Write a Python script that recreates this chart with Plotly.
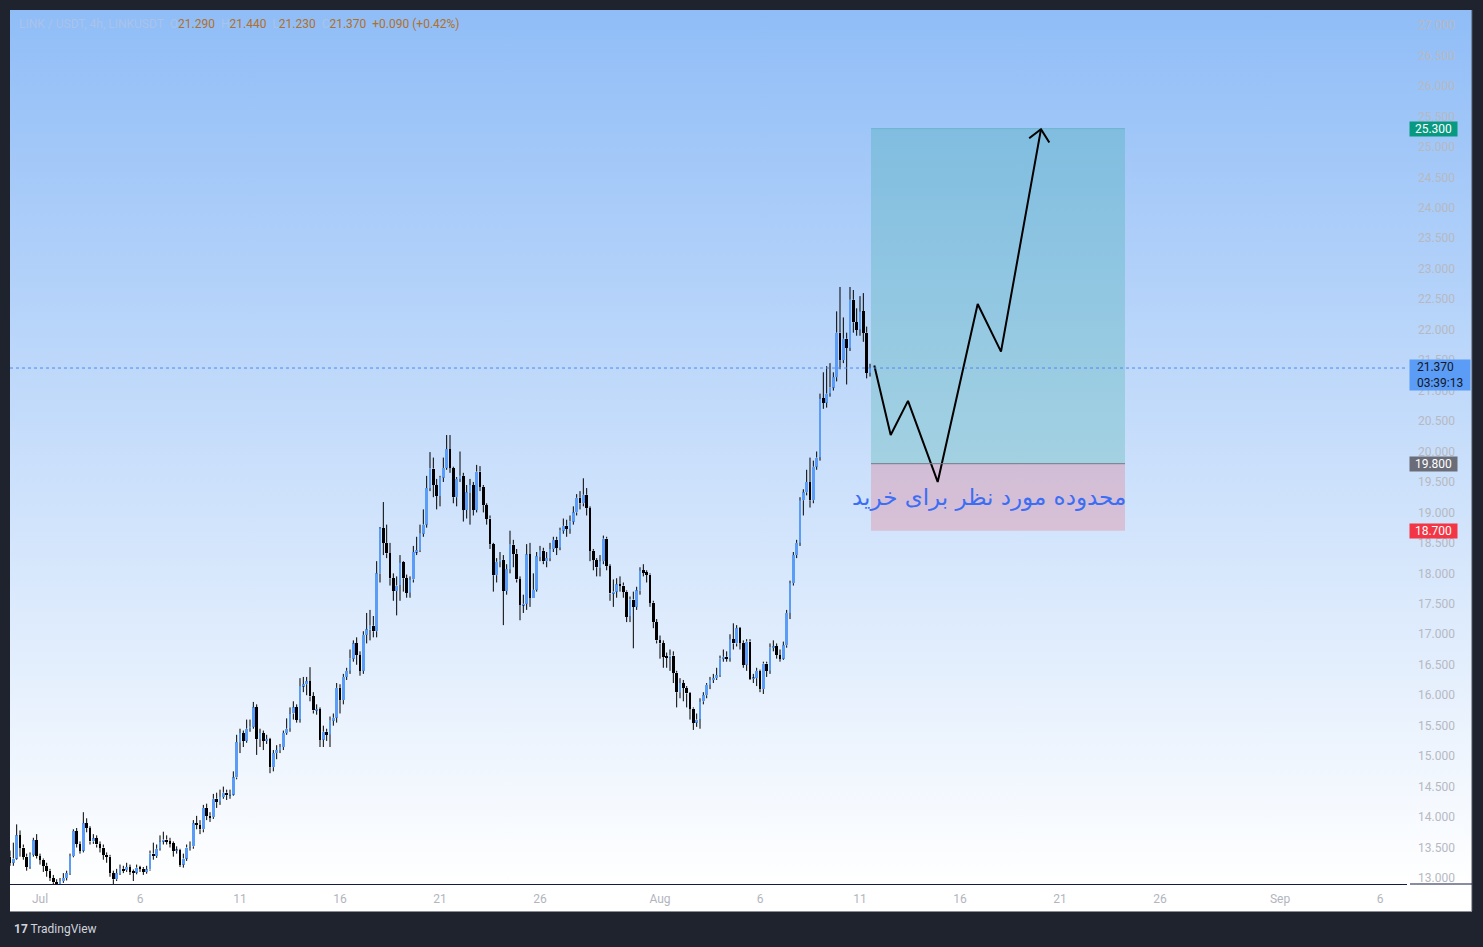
import base64
import pandas as pd
import plotly.graph_objects as go

# ---------------- data (LINK/USDT 4h) ----------------
first_open = 13.35
closes = [
    13.25, 13.32, 13.70, 13.50, 13.35, 13.18, 13.38, 13.62, 13.36, 13.30,
    13.20, 13.12, 13.00, 12.93, 12.88, 12.95, 13.00, 13.08, 13.36, 13.77,
    13.56, 13.45, 13.90, 13.82, 13.60, 13.65, 13.55, 13.50, 13.38, 13.35,
    13.08, 12.98, 13.08, 13.15, 13.13, 13.18, 13.10, 13.09, 13.17, 13.15,
    13.10, 13.14, 13.40, 13.36, 13.48, 13.60, 13.63, 13.60, 13.57, 13.45,
    13.46, 13.22, 13.32, 13.50, 13.52, 13.90, 13.87, 13.80, 14.15, 14.02,
    14.00, 14.30, 14.25, 14.33, 14.40, 14.36, 14.37, 14.65, 15.23, 15.38,
    15.25, 15.45, 15.48, 15.80, 15.28, 15.38, 15.25, 15.28, 14.82, 15.05,
    15.10, 15.15, 15.38, 15.45, 15.70, 15.80, 15.60, 16.15, 16.18, 16.23,
    15.98, 15.75, 15.77, 15.27, 15.40, 15.35, 15.58, 15.63, 16.12, 15.92,
    16.30, 16.40, 16.60, 16.85, 16.66, 16.40, 16.99, 17.08, 17.14, 17.05,
    18.00, 18.74, 18.50, 18.33, 17.92, 17.71, 17.80, 18.18, 17.92, 17.68,
    17.90, 18.35, 18.38, 18.65, 18.80, 19.40, 19.72, 19.45, 19.27, 19.57,
    19.73, 20.04, 19.73, 19.25, 19.55, 19.60, 19.04, 19.33, 19.45, 19.04,
    19.67, 19.42, 19.12, 18.90, 18.48, 17.97, 18.19, 18.22, 17.71, 18.07,
    18.47, 18.32, 17.90, 17.48, 17.50, 18.31, 17.60, 17.73, 18.28, 18.37,
    18.20, 18.25, 18.40, 18.55, 18.42, 18.70, 18.78, 18.73, 18.85, 19.00,
    19.24, 19.15, 19.29, 19.07, 18.37, 18.22, 18.10, 18.20, 18.57, 18.12,
    17.67, 17.70, 17.82, 17.80, 17.70, 17.29, 17.57, 17.45, 17.72, 18.05,
    18.02, 17.98, 17.52, 17.20, 16.90, 16.85, 16.63, 16.62, 16.65, 16.37,
    16.05, 16.20, 16.12, 16.03, 15.78, 15.55, 15.60, 15.90, 16.00, 16.17,
    16.25, 16.28, 16.33, 16.60, 16.63, 16.60, 16.92, 16.85, 17.10, 16.86,
    16.50, 16.88, 16.27, 16.28, 16.40, 16.10, 16.52, 16.40, 16.78, 16.80,
    16.66, 16.60, 16.82, 17.35, 17.84, 18.30, 18.50, 19.20, 19.33, 19.50,
    19.20, 19.75, 19.90, 20.87, 20.80, 20.95, 21.05, 21.22, 21.95, 21.50,
    21.85, 21.70, 22.49, 22.12, 22.00, 22.30, 21.95, 21.29, 21.37,
]
highs = [
    13.45, 13.58, 13.88, 13.78, 13.55, 13.40, 13.42, 13.66, 13.72, 13.40,
    13.32, 13.25, 13.15, 13.05, 12.98, 13.00, 13.08, 13.12, 13.40, 13.80,
    13.82, 13.60, 14.08, 13.98, 13.85, 13.72, 13.70, 13.60, 13.55, 13.42,
    13.38, 13.12, 13.15, 13.22, 13.20, 13.25, 13.22, 13.14, 13.22, 13.20,
    13.18, 13.20, 13.45, 13.58, 13.55, 13.70, 13.76, 13.70, 13.66, 13.60,
    13.52, 13.48, 13.40, 13.55, 13.60, 13.95, 14.02, 13.95, 14.20, 14.22,
    14.08, 14.38, 14.40, 14.45, 14.50, 14.45, 14.45, 14.75, 15.35, 15.45,
    15.42, 15.60, 15.60, 15.89, 15.85, 15.45, 15.42, 15.35, 15.30, 15.10,
    15.18, 15.20, 15.42, 15.62, 15.80, 15.90, 15.85, 16.28, 16.30, 16.30,
    16.46, 16.05, 15.85, 15.80, 15.50, 15.45, 15.65, 15.70, 16.20, 16.18,
    16.35, 16.45, 16.75, 16.90, 16.95, 16.72, 17.05, 17.35, 17.40, 17.30,
    18.20, 18.76, 19.17, 18.80, 18.50, 18.00, 17.95, 18.30, 18.20, 17.98,
    17.95, 18.45, 18.60, 18.80, 19.05, 19.60, 19.99, 19.90, 19.55, 19.60,
    19.90, 20.27, 20.27, 19.75, 19.58, 20.00, 19.65, 19.45, 19.55, 19.50,
    19.78, 19.76, 19.45, 19.15, 18.95, 18.50, 18.25, 18.35, 18.30, 18.15,
    18.70, 18.55, 18.40, 17.95, 17.65, 18.48, 18.50, 18.00, 18.35, 18.45,
    18.42, 18.35, 18.50, 18.60, 18.60, 18.75, 18.90, 18.88, 18.95, 19.10,
    19.30, 19.35, 19.56, 19.40, 19.10, 18.40, 18.25, 18.30, 18.62, 18.60,
    18.15, 17.90, 17.92, 17.95, 17.85, 17.72, 17.62, 17.70, 17.78, 18.10,
    18.15, 18.05, 18.00, 17.55, 17.25, 16.98, 16.90, 16.70, 16.75, 16.72,
    16.40, 16.28, 16.25, 16.15, 16.05, 15.80, 15.70, 15.95, 16.05, 16.20,
    16.30, 16.35, 16.45, 16.65, 16.75, 16.72, 17.00, 17.18, 17.15, 17.12,
    16.90, 16.92, 16.92, 16.35, 16.45, 16.42, 16.55, 16.55, 16.85, 16.90,
    16.85, 16.75, 16.88, 17.40, 17.88, 18.35, 18.55, 19.25, 19.38, 19.70,
    19.90, 19.85, 20.00, 20.95, 21.30, 21.40, 21.45, 21.30, 22.30, 22.70,
    22.20, 21.95, 22.70, 22.65, 22.35, 22.55, 22.60, 22.05, 21.44,
]
lows = [
    13.20, 13.20, 13.30, 13.35, 13.30, 13.12, 13.15, 13.35, 13.32, 13.22,
    13.10, 13.02, 12.95, 12.88, 12.85, 12.86, 12.92, 12.96, 13.05, 13.34,
    13.50, 13.40, 13.42, 13.75, 13.55, 13.56, 13.50, 13.42, 13.30, 13.25,
    13.02, 12.90, 12.95, 13.05, 13.08, 13.10, 13.05, 12.95, 13.06, 13.10,
    13.05, 13.07, 13.12, 13.30, 13.33, 13.45, 13.55, 13.55, 13.50, 13.35,
    13.40, 13.18, 13.17, 13.28, 13.45, 13.48, 13.80, 13.72, 13.75, 13.95,
    13.92, 13.97, 14.15, 14.20, 14.30, 14.28, 14.30, 14.35, 14.62, 15.05,
    15.15, 15.22, 15.40, 15.45, 15.02, 15.15, 15.10, 15.20, 14.72, 14.75,
    14.95, 15.05, 15.10, 15.35, 15.40, 15.60, 15.55, 15.55, 16.05, 16.00,
    15.90, 15.70, 15.68, 15.15, 15.15, 15.25, 15.15, 15.50, 15.55, 15.70,
    15.85, 16.25, 16.35, 16.55, 16.50, 16.32, 16.35, 16.85, 16.90, 16.95,
    16.95, 17.85, 18.30, 18.25, 17.80, 17.55, 17.31, 17.55, 17.70, 17.60,
    17.60, 17.85, 18.30, 18.35, 18.60, 18.75, 19.35, 19.25, 19.05, 19.10,
    19.50, 19.70, 19.65, 19.15, 19.10, 19.50, 18.85, 18.90, 18.80, 18.95,
    19.00, 19.35, 19.00, 18.80, 18.40, 17.70, 17.85, 18.10, 17.15, 17.65,
    18.00, 18.10, 17.85, 17.23, 17.35, 17.40, 17.45, 17.60, 17.70, 18.20,
    18.15, 18.10, 18.20, 18.35, 18.30, 18.38, 18.65, 18.60, 18.65, 18.80,
    18.95, 19.05, 19.10, 18.95, 18.20, 18.05, 17.95, 17.95, 18.15, 18.05,
    17.55, 17.45, 17.60, 17.70, 17.60, 17.20, 17.20, 16.77, 17.40, 17.65,
    17.95, 17.85, 17.45, 17.10, 16.85, 16.60, 16.45, 16.45, 16.40, 16.20,
    15.80, 15.95, 15.90, 15.80, 15.60, 15.43, 15.48, 15.45, 15.85, 15.95,
    16.10, 16.20, 16.25, 16.30, 16.55, 16.55, 16.55, 16.75, 16.80, 16.75,
    16.45, 16.40, 16.25, 16.20, 16.15, 16.05, 16.02, 16.30, 16.35, 16.72,
    16.60, 16.55, 16.58, 16.78, 17.25, 17.80, 18.25, 18.45, 18.95, 19.28,
    19.08, 19.15, 19.70, 19.85, 20.70, 20.72, 20.90, 21.00, 21.15, 21.35,
    21.45, 21.10, 21.65, 21.95, 21.90, 21.90, 21.80, 21.20, 21.23,
]
candle_start = "2025-06-29 12:00"

# x-axis labels
x_tick_dates = ["2025-07-01", "2025-07-06", "2025-07-11", "2025-07-16", "2025-07-21",
                "2025-07-26", "2025-08-01", "2025-08-06", "2025-08-11", "2025-08-16",
                "2025-08-21", "2025-08-26", "2025-09-01", "2025-09-06"]
x_tick_text = ["Jul", "6", "11", "16", "21", "26", "Aug", "6", "11", "16", "21", "26", "Sep", "6"]

# long-position tool
entry_price = 19.8
target_price = 25.3
stop_price = 18.7
last_price = 21.37
tool_start = "2025-08-11 13:12"
tool_end = "2025-08-24 06:00"

# hand-drawn projected path
path_times = ["2025-08-11 17:10", "2025-08-12 12:50", "2025-08-13 09:36", "2025-08-14 21:14",
              "2025-08-16 21:14", "2025-08-18 01:12", "2025-08-20 01:12"]
path_prices = [21.41, 20.27, 20.83, 19.50, 22.42, 21.64, 25.29]
arrow_left = ("2025-08-19 11:00", 25.14)
arrow_right = ("2025-08-20 11:10", 25.07)

label_text = "محدوده مورد نظر برای خرید"
label_time = "2025-08-17 10:48"
label_price = 19.25

# ---------------- build ----------------
opens = [first_open] + closes[:-1]
times = pd.date_range(candle_start, periods=len(closes), freq="4h")

UP = "#5b9cf6"
DOWN = "#000000"
body_w = 0.78 * 4 * 3600 * 1000

up_x, up_base, up_h, dn_x, dn_base, dn_h = [], [], [], [], [], []
wick_x, wick_y = [], []
for t, o, h, l, c in zip(times, opens, highs, lows, closes):
    lo_b, hi_b = min(o, c), max(o, c)
    hgt = max(hi_b - lo_b, 0.016)
    if c >= o:
        up_x.append(t); up_base.append(lo_b); up_h.append(hgt)
    else:
        dn_x.append(t); dn_base.append(lo_b); dn_h.append(hgt)
    wick_x += [t, t, None, t, t, None]
    wick_y += [hi_b, h, None, l, lo_b, None]

fig = go.Figure()
fig.add_trace(go.Scatter(x=wick_x, y=wick_y, mode="lines",
                         line=dict(color="#000000", width=1), hoverinfo="skip",
                         showlegend=False))
fig.add_trace(go.Bar(x=up_x, y=up_h, base=up_base, width=body_w,
                     marker=dict(color=UP, line=dict(width=0)), showlegend=False))
fig.add_trace(go.Bar(x=dn_x, y=dn_h, base=dn_base, width=body_w,
                     marker=dict(color=DOWN, line=dict(width=0)), showlegend=False))

# projected path + arrow head
px_ = list(path_times) + [None, arrow_left[0], path_times[-1], arrow_right[0]]
py_ = list(path_prices) + [None, arrow_left[1], path_prices[-1], arrow_right[1]]
fig.add_trace(go.Scatter(x=px_, y=py_, mode="lines",
                         line=dict(color="#000000", width=2), hoverinfo="skip",
                         showlegend=False, cliponaxis=False))

# gradient background (svg data uri)
svg = ("<svg xmlns='http://www.w3.org/2000/svg' width='100' height='100' preserveAspectRatio='none'>"
       "<defs><linearGradient id='g' x1='0' y1='0' x2='0' y2='1'>"
       "<stop offset='0' stop-color='#90bdf7'/><stop offset='1' stop-color='#ffffff'/>"
       "</linearGradient></defs><rect width='100' height='100' fill='url(#g)'/></svg>")
src = "data:image/svg+xml;base64," + base64.b64encode(svg.encode()).decode()

W, H = 1483, 947
ML, MR, MT, MB = 10, 76, 10, 63
PW, PH = W - ML - MR, H - MT - MB


def px2paper_x(px):
    return (px - ML) / PW


def px2paper_y(py):
    return (H - MB - py) / PH


shapes = [
    # white time-axis strip
    dict(type="rect", xref="paper", yref="paper", x0=0, x1=px2paper_x(1472),
         y0=px2paper_y(911), y1=0, fillcolor="#ffffff", line=dict(width=0), layer="below"),
    dict(type="line", xref="paper", yref="paper", x0=px2paper_x(10), x1=px2paper_x(1472),
         y0=px2paper_y(911.5), y1=px2paper_y(911.5), line=dict(color="#8a8d96", width=1)),
    dict(type="line", xref="paper", yref="paper", x0=px2paper_x(1472), x1=px2paper_x(1472),
         y0=px2paper_y(911), y1=px2paper_y(10), line=dict(color="#50545f", width=1)),
    dict(type="line", xref="paper", yref="paper", x0=px2paper_x(1410), x1=px2paper_x(1472),
         y0=0, y1=0, line=dict(color="#131a44", width=1)),
    # position tool
    dict(type="rect", xref="x", yref="y", x0=tool_start, x1=tool_end, y0=entry_price,
         y1=target_price, fillcolor="rgba(8,153,129,0.2)", line=dict(width=0), layer="below"),
    dict(type="rect", xref="x", yref="y", x0=tool_start, x1=tool_end, y0=stop_price,
         y1=entry_price, fillcolor="rgba(242,54,69,0.2)", line=dict(width=0), layer="below"),
    dict(type="line", xref="x", yref="y", x0=tool_start, x1=tool_end, y0=entry_price,
         y1=entry_price, line=dict(color="#787b86", width=1)),
    dict(type="line", xref="x", yref="y", x0=tool_start, x1=tool_end, y0=target_price,
         y1=target_price, line=dict(color="rgba(8,153,129,0.25)", width=1)),
    # last price dotted line
    dict(type="line", xref="paper", yref="y", x0=0, x1=1, y0=last_price, y1=last_price,
         line=dict(color="#4a8cf5", width=1, dash="dot")),
]

FONT = "Roboto, Arial, sans-serif"
faint = "#a9c3ea"
val = "#b0702a"
header = (f"<span style='color:{faint}'>LINK / USDT, 4h, LINKUSDT</span>&nbsp;&nbsp;"
          f"<span style='color:{faint}'>O</span><span style='color:{val}'>21.290</span>&nbsp;&nbsp;"
          f"<span style='color:{faint}'>H</span><span style='color:{val}'>21.440</span>&nbsp;&nbsp;"
          f"<span style='color:{faint}'>L</span><span style='color:{val}'>21.230</span>&nbsp;&nbsp;"
          f"<span style='color:{faint}'>C</span><span style='color:{val}'>21.370</span>&nbsp;&nbsp;"
          f"<span style='color:{val}'>+0.090 (+0.42%)</span>")

annotations = [
    dict(xref="paper", yref="paper", x=px2paper_x(17), y=px2paper_y(24), xanchor="left",
         yanchor="middle", text=header, showarrow=False, font=dict(family=FONT, size=12)),
    dict(xref="x", yref="y", x=label_time, y=label_price, text=label_text, showarrow=False,
         font=dict(family="DejaVu Sans", size=23, color="#3b6ef5"), xanchor="center",
         yanchor="middle"),
    dict(xref="paper", yref="y", x=px2paper_x(1409), y=target_price, text="25.300",
         showarrow=False, xanchor="left", yanchor="middle", bgcolor="#089981",
         font=dict(family=FONT, size=12, color="#ffffff"), width=47, height=14, borderpad=0),
    dict(xref="paper", yref="y", x=px2paper_x(1409), y=entry_price, text="19.800",
         showarrow=False, xanchor="left", yanchor="middle", bgcolor="#6a6d78",
         font=dict(family=FONT, size=12, color="#ffffff"), width=47, height=14, borderpad=0),
    dict(xref="paper", yref="y", x=px2paper_x(1409), y=stop_price, text="18.700",
         showarrow=False, xanchor="left", yanchor="middle", bgcolor="#f23645",
         font=dict(family=FONT, size=12, color="#ffffff"), width=47, height=14, borderpad=0),
    dict(xref="paper", yref="y", x=px2paper_x(1409), y=last_price,
         text="&nbsp;&nbsp;21.370<br>&nbsp;&nbsp;03:39:13",
         showarrow=False, xanchor="left", yanchor="top", yshift=9, bgcolor="#5b9cf6",
         align="left", font=dict(family=FONT, size=12, color="#131722"), width=58,
         height=28, borderpad=1),
    dict(xref="paper", yref="paper", x=px2paper_x(12), y=px2paper_y(929), xanchor="left",
         yanchor="middle", text="<b>17</b> TradingView", showarrow=False,
         font=dict(family=FONT, size=12, color="#d1d4dc")),
]

y_ticks = [13.0 + 0.5 * k for k in range(29)]
y_text = [f"{v:.3f}" for v in y_ticks]

fig.update_layout(
    width=W, height=H, autosize=False,
    margin=dict(l=ML, r=MR, t=MT, b=MB),
    paper_bgcolor="#1f232e", plot_bgcolor="rgba(0,0,0,0)",
    barmode="overlay", bargap=0, showlegend=False,
    images=[dict(source=src, xref="paper", yref="paper", x=0, y=1,
                 sizex=px2paper_x(1472), sizey=1, xanchor="left", yanchor="top",
                 sizing="stretch", layer="below")],
    shapes=shapes, annotations=annotations,
    xaxis=dict(type="date", range=["2025-06-29 12:00", "2025-09-07 08:24"],
               tickvals=x_tick_dates, ticktext=x_tick_text, ticks="",
               showgrid=False, zeroline=False, showline=True, linecolor="#131a44",
               linewidth=1, tickfont=dict(family=FONT, size=12, color="#b2b5be"),
               ticklabelstandoff=4, rangeslider=dict(visible=False), fixedrange=True),
    yaxis=dict(side="right", range=[12.9015, 27.246], tickvals=y_ticks, ticktext=y_text,
               ticks="", showgrid=False, zeroline=False, showline=False,
               tickfont=dict(family=FONT, size=12, color="#b6b9c2"),
               ticklabelstandoff=10, fixedrange=True),
    hovermode=False,
)

fig.write_html("out.html", config={"displayModeBar": False},
               post_script="document.body.style.margin='0';document.body.style.overflow='hidden';")
